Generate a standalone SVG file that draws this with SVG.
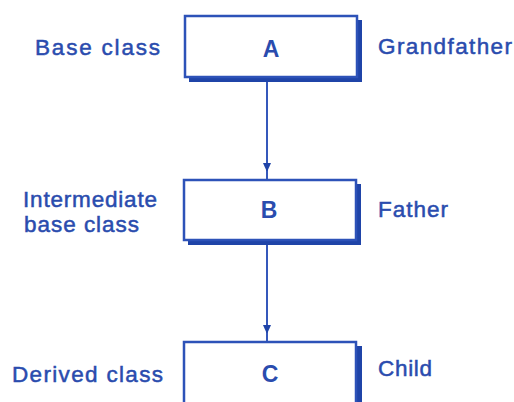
<svg xmlns="http://www.w3.org/2000/svg" width="514" height="402" viewBox="0 0 514 402">
<style>
.box{fill:#fff;stroke:#2d52b8;stroke-width:2.5}
.sh{fill:#1f44a8}
.t{font-family:"Liberation Sans",Arial,sans-serif;font-size:22.5px;fill:#2a4cae;stroke:#2a4cae;stroke-width:0.5}
.c{font-family:"Liberation Sans",Arial,sans-serif;font-size:23px;font-weight:bold;fill:#2a4cae;text-anchor:middle}
.ln{stroke:#3558bb;stroke-width:2;fill:none}
</style>
<defs>
<marker id="ah" markerWidth="10" markerHeight="10" refX="9" refY="5" orient="auto" markerUnits="userSpaceOnUse" viewBox="0 0 10 10">
<path d="M0,1 L9,5 L0,9 Z" fill="#1f44a8"/>
</marker>
</defs>
<g id="connectors">
<line class="ln" x1="267" y1="78" x2="267" y2="172" marker-end="url(#ah)"/>
<line class="ln" x1="267" y1="171" x2="267" y2="180"/>
<line class="ln" x1="267" y1="241" x2="267" y2="334" marker-end="url(#ah)"/>
<line class="ln" x1="267" y1="333" x2="267" y2="342"/>
</g>
<g id="nodeA">
<rect class="sh" x="189" y="20" width="173" height="62"/>
<rect class="box" x="185" y="16" width="172" height="61"/>
<text class="c" x="271" y="57">A</text>
</g>
<g id="nodeB">
<rect class="sh" x="188" y="184" width="173" height="61"/>
<rect class="box" x="184" y="180" width="172" height="60"/>
<text class="c" x="269" y="218">B</text>
</g>
<g id="nodeC">
<rect class="sh" x="188" y="346" width="174" height="70"/>
<rect class="box" x="184" y="342" width="172" height="70"/>
<text class="c" x="270" y="382">C</text>
</g>
<g id="labels">
<text class="t" x="35" y="55" textLength="125" lengthAdjust="spacing">Base class</text>
<text class="t" x="23" y="207" textLength="134" lengthAdjust="spacing">Intermediate</text>
<text class="t" x="24" y="232" textLength="115" lengthAdjust="spacing">base class</text>
<text class="t" x="12" y="382" textLength="151" lengthAdjust="spacing">Derived class</text>
<text class="t" x="378" y="54" textLength="134" lengthAdjust="spacing">Grandfather</text>
<text class="t" x="378" y="217" textLength="70" lengthAdjust="spacing">Father</text>
<text class="t" x="378" y="376" textLength="54" lengthAdjust="spacing">Child</text>
</g>
</svg>
